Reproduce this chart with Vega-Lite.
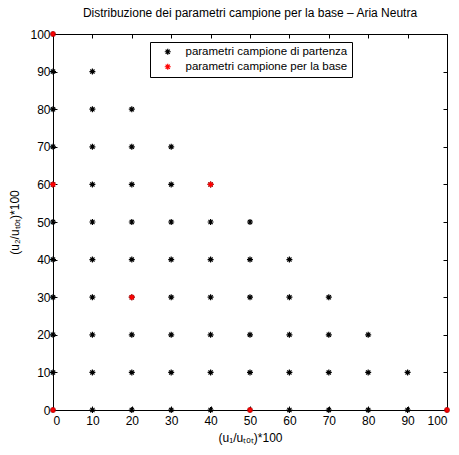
{
  "$schema": "https://vega.github.io/schema/vega-lite/v6.json",
  "autosize": "none",
  "width": 394,
  "height": 376,
  "padding": {"left": 53, "top": 34, "right": 12, "bottom": 45},
  "background": "white",
  "title": {"text": "Distribuzione dei parametri campione per la base – Aria Neutra", "font": "Liberation Sans", "fontSize": 12, "fontWeight": "normal", "color": "black", "offset": 8},
  "config": {"view": {"stroke": "black", "strokeWidth": 1}, "font": "Liberation Sans"},
  "data": {"values": [
    {"x":0,"y":0,"tipo":"parametri campione di partenza"},{"x":0,"y":10,"tipo":"parametri campione di partenza"},{"x":0,"y":20,"tipo":"parametri campione di partenza"},{"x":0,"y":30,"tipo":"parametri campione di partenza"},{"x":0,"y":40,"tipo":"parametri campione di partenza"},{"x":0,"y":50,"tipo":"parametri campione di partenza"},{"x":0,"y":60,"tipo":"parametri campione di partenza"},{"x":0,"y":70,"tipo":"parametri campione di partenza"},{"x":0,"y":80,"tipo":"parametri campione di partenza"},{"x":0,"y":90,"tipo":"parametri campione di partenza"},{"x":0,"y":100,"tipo":"parametri campione di partenza"},
    {"x":10,"y":0,"tipo":"parametri campione di partenza"},{"x":10,"y":10,"tipo":"parametri campione di partenza"},{"x":10,"y":20,"tipo":"parametri campione di partenza"},{"x":10,"y":30,"tipo":"parametri campione di partenza"},{"x":10,"y":40,"tipo":"parametri campione di partenza"},{"x":10,"y":50,"tipo":"parametri campione di partenza"},{"x":10,"y":60,"tipo":"parametri campione di partenza"},{"x":10,"y":70,"tipo":"parametri campione di partenza"},{"x":10,"y":80,"tipo":"parametri campione di partenza"},{"x":10,"y":90,"tipo":"parametri campione di partenza"},
    {"x":20,"y":0,"tipo":"parametri campione di partenza"},{"x":20,"y":10,"tipo":"parametri campione di partenza"},{"x":20,"y":20,"tipo":"parametri campione di partenza"},{"x":20,"y":30,"tipo":"parametri campione di partenza"},{"x":20,"y":40,"tipo":"parametri campione di partenza"},{"x":20,"y":50,"tipo":"parametri campione di partenza"},{"x":20,"y":60,"tipo":"parametri campione di partenza"},{"x":20,"y":70,"tipo":"parametri campione di partenza"},{"x":20,"y":80,"tipo":"parametri campione di partenza"},
    {"x":30,"y":0,"tipo":"parametri campione di partenza"},{"x":30,"y":10,"tipo":"parametri campione di partenza"},{"x":30,"y":20,"tipo":"parametri campione di partenza"},{"x":30,"y":30,"tipo":"parametri campione di partenza"},{"x":30,"y":40,"tipo":"parametri campione di partenza"},{"x":30,"y":50,"tipo":"parametri campione di partenza"},{"x":30,"y":60,"tipo":"parametri campione di partenza"},{"x":30,"y":70,"tipo":"parametri campione di partenza"},
    {"x":40,"y":0,"tipo":"parametri campione di partenza"},{"x":40,"y":10,"tipo":"parametri campione di partenza"},{"x":40,"y":20,"tipo":"parametri campione di partenza"},{"x":40,"y":30,"tipo":"parametri campione di partenza"},{"x":40,"y":40,"tipo":"parametri campione di partenza"},{"x":40,"y":50,"tipo":"parametri campione di partenza"},{"x":40,"y":60,"tipo":"parametri campione di partenza"},
    {"x":50,"y":0,"tipo":"parametri campione di partenza"},{"x":50,"y":10,"tipo":"parametri campione di partenza"},{"x":50,"y":20,"tipo":"parametri campione di partenza"},{"x":50,"y":30,"tipo":"parametri campione di partenza"},{"x":50,"y":40,"tipo":"parametri campione di partenza"},{"x":50,"y":50,"tipo":"parametri campione di partenza"},
    {"x":60,"y":0,"tipo":"parametri campione di partenza"},{"x":60,"y":10,"tipo":"parametri campione di partenza"},{"x":60,"y":20,"tipo":"parametri campione di partenza"},{"x":60,"y":30,"tipo":"parametri campione di partenza"},{"x":60,"y":40,"tipo":"parametri campione di partenza"},
    {"x":70,"y":0,"tipo":"parametri campione di partenza"},{"x":70,"y":10,"tipo":"parametri campione di partenza"},{"x":70,"y":20,"tipo":"parametri campione di partenza"},{"x":70,"y":30,"tipo":"parametri campione di partenza"},
    {"x":80,"y":0,"tipo":"parametri campione di partenza"},{"x":80,"y":10,"tipo":"parametri campione di partenza"},{"x":80,"y":20,"tipo":"parametri campione di partenza"},
    {"x":90,"y":0,"tipo":"parametri campione di partenza"},{"x":90,"y":10,"tipo":"parametri campione di partenza"},
    {"x":100,"y":0,"tipo":"parametri campione di partenza"},
    {"x":0,"y":100,"tipo":"parametri campione per la base"},{"x":0,"y":60,"tipo":"parametri campione per la base"},{"x":20,"y":30,"tipo":"parametri campione per la base"},{"x":40,"y":60,"tipo":"parametri campione per la base"},{"x":50,"y":0,"tipo":"parametri campione per la base"},{"x":100,"y":0,"tipo":"parametri campione per la base"},{"x":0,"y":0,"tipo":"parametri campione per la base"}
  ]},
  "layer": [
    {
      "mark": {"type": "point", "opacity": 0, "size": 1},
      "encoding": {
        "x": {"field": "x", "type": "quantitative", "scale": {"domain": [0, 100], "nice": false, "zero": false},
          "axis": {"orient": "top", "values": [0,10,20,30,40,50,60,70,80,90,100], "title": null, "labels": false, "domain": false, "grid": false, "tickColor": "black", "tickSize": -4}},
        "y": {"field": "y", "type": "quantitative", "scale": {"domain": [0, 100], "nice": false, "zero": false},
          "axis": {"orient": "right", "values": [0,10,20,30,40,50,60,70,80,90,100], "title": null, "labels": false, "domain": false, "grid": false, "tickColor": "black", "tickSize": -4}}
      }
    },
    {
      "mark": {"type": "point", "shape": "M-1,0L1,0M0,-1L0,1M-0.7,-0.7L0.7,0.7M-0.7,0.7L0.7,-0.7", "filled": false, "size": 36, "strokeWidth": 1.2, "opacity": 1},
      "encoding": {
        "x": {"field": "x", "type": "quantitative", "scale": {"domain": [0, 100], "nice": false, "zero": false},
          "axis": {"orient": "bottom", "values": [0,10,20,30,40,50,60,70,80,90,100], "title": "(u₁/uₜₒₜ)*100", "grid": false, "domainColor": "black", "tickColor": "black", "tickSize": -4, "labelPadding": 9, "labelColor": "black", "labelFontSize": 12, "labelFont": "Liberation Sans", "titleFont": "Liberation Sans", "titleFontSize": 12, "titleFontWeight": "normal", "titleColor": "black", "titlePadding": 6}},
        "y": {"field": "y", "type": "quantitative", "scale": {"domain": [0, 100], "nice": false, "zero": false},
          "axis": {"orient": "left", "values": [0,10,20,30,40,50,60,70,80,90,100], "title": "(u₂/uₜₒₜ)*100", "grid": false, "domainColor": "black", "tickColor": "black", "tickSize": -4, "labelPadding": 7, "labelColor": "black", "labelFontSize": 12, "labelFont": "Liberation Sans", "titleFont": "Liberation Sans", "titleFontSize": 12, "titleFontWeight": "normal", "titleColor": "black", "titlePadding": 8}},
        "color": {"field": "tipo", "type": "nominal", "scale": {"domain": ["parametri campione di partenza", "parametri campione per la base"], "range": ["black", "#ff0000"]},
          "legend": {"title": null, "orient": "none", "legendX": 97, "legendY": 8, "strokeColor": "black", "fillColor": "white", "padding": 4, "symbolType": "M-1,0L1,0M0,-1L0,1M-0.7,-0.7L0.7,0.7M-0.7,0.7L0.7,-0.7", "symbolSize": 36, "symbolStrokeWidth": 1.2, "labelFontSize": 11.5, "labelLimit": 400, "labelFont": "Liberation Sans", "labelColor": "black", "rowPadding": 2, "labelOffset": 12, "symbolOffset": 8}}
      }
    }
  ],
  "resolve": {"axis": {"x": "independent", "y": "independent"}}
}
